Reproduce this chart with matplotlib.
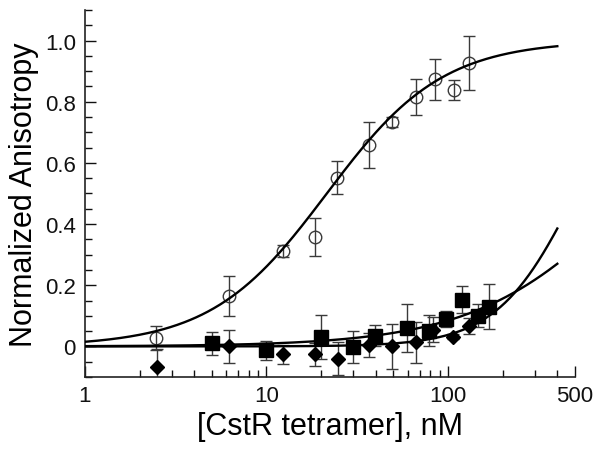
import matplotlib.pyplot as plt
import numpy as np
from matplotlib.ticker import FixedLocator, LogLocator, NullFormatter

plt.rcParams['font.family'] = ['Liberation Sans', 'DejaVu Sans']

# open circles
conc_open = [2.48, 6.2, 12.4, 18.5, 24.5, 36.8, 49.3, 66.6, 84.5, 107.5, 130.5]
aniso_open = [0.027, 0.166, 0.311, 0.359, 0.552, 0.659, 0.734, 0.816, 0.874, 0.839, 0.927]
err_open = [0.04, 0.065, 0.02, 0.062, 0.053, 0.075, 0.015, 0.058, 0.067, 0.033, 0.088]

# filled squares
conc_sq = [4.99, 9.94, 20.0, 29.8, 39.5, 59.2, 78.1, 97.3, 120, 145.5, 168.7]
aniso_sq = [0.010, -0.012, 0.030, -0.003, 0.035, 0.061, 0.052, 0.090, 0.153, 0.101, 0.130]
err_sq = [0.037, 0.031, 0.072, 0.052, 0.035, 0.079, 0.05, 0.027, 0.045, 0.037, 0.074]

# filled diamonds
conc_di = [2.49, 6.2, 12.4, 18.5, 24.9, 36.8, 48.9, 66.6, 82.8, 106.8, 130]
aniso_di = [-0.068, 0.0, -0.026, -0.026, -0.040, 0.006, 0.0, 0.014, 0.055, 0.032, 0.068]
err_di = [0.058, 0.053, 0.03, 0.037, 0.053, 0.039, 0.074, 0.067, 0.04, 0.008, 0.026]

# Hill fit parameters (K in nM, n)
fit_open = (21.5, 1.36)
fit_sq = (1080.0, 1.0)
fit_di = (505.0, 2.0)


def hill(x, K, n):
    return x**n / (K**n + x**n)


fig = plt.figure(figsize=(6.02, 4.52), dpi=100)
ax = fig.add_axes([0.141, 0.1637, 0.814, 0.812])

xf = np.geomspace(1, 400, 400)
for K, n in (fit_open, fit_sq, fit_di):
    ax.plot(xf, hill(xf, K, n), color='black', lw=1.7, zorder=3)

ebkw = dict(ecolor='#3a3a3a', elinewidth=1.0, capsize=4.5, capthick=1.0, ls='none', zorder=2)
ax.errorbar(conc_open, aniso_open, yerr=err_open, fmt='o', ms=9, mfc='none',
            mec='#3a3a3a', mew=1.0, **ebkw)
ax.errorbar(conc_sq, aniso_sq, yerr=err_sq, fmt='s', ms=9.5, mfc='black',
            mec='black', **ebkw)
ax.errorbar(conc_di, aniso_di, yerr=err_di, fmt='D', ms=7.5, mfc='black',
            mec='black', **ebkw)

ax.set_xscale('log')
ax.set_xlim(1, 500)
ax.set_ylim(-0.1, 1.1)

ax.xaxis.set_major_locator(FixedLocator([1, 10, 100, 500]))
ax.xaxis.set_minor_locator(LogLocator(base=10, subs=np.arange(2, 10)))
ax.xaxis.set_minor_formatter(NullFormatter())
ax.set_xticklabels(['1', '10', '100', '500'])

ax.set_yticks([0, 0.2, 0.4, 0.6, 0.8, 1.0])
ax.set_yticklabels(['0', '0.2', '0.4', '0.6', '0.8', '1.0'])
ax.yaxis.set_minor_locator(FixedLocator(np.arange(-0.1, 1.101, 0.05)))

ax.tick_params(which='both', direction='in', labelsize=16, width=1, colors='#111111')
ax.tick_params(which='major', length=8)
ax.tick_params(which='minor', length=5)
ax.tick_params(axis='x', pad=6)
ax.tick_params(axis='y', pad=6.5)

for s in ('top', 'right'):
    ax.spines[s].set_visible(False)
for s in ('left', 'bottom'):
    ax.spines[s].set_color('#222222')
    ax.spines[s].set_linewidth(1.2)

ax.set_xlabel('[CstR tetramer], nM', fontsize=22, labelpad=3)
ax.set_ylabel('Normalized Anisotropy', fontsize=22, labelpad=4)

fig.savefig('out.png', dpi=100)
